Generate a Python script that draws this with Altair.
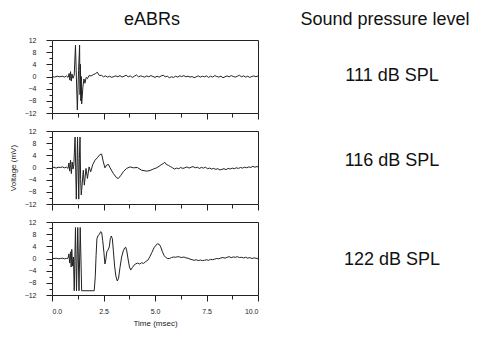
import altair as alt
import pandas as pd

FONT = "Liberation Sans"

levels = ["111 dB SPL", "116 dB SPL", "122 dB SPL"]
titles = ["eABRs", "Sound pressure level"]

# 111 dB SPL trace (time ms, voltage mV)
eabr_111 = [
    (0.0, 0.0), (0.12, -0.2), (0.25, 0.1), (0.37, -0.1), (0.5, 0.1), (0.62, -0.2),
    (0.7, 0.2), (0.78, -0.3), (0.83, 1.0), (0.87, -1.2), (0.9, 1.6), (0.94, -1.5),
    (0.97, 0.8), (1.02, -0.6), (1.08, 0.5), (1.14, 10.3), (1.23, -11.0), (1.29, 2.0),
    (1.34, 10.3), (1.36, -6.0), (1.38, 4.0), (1.40, -8.0), (1.42, 0.0), (1.44, -9.0),
    (1.50, -3.5), (1.55, -0.8), (1.60, -2.2), (1.66, -0.3), (1.72, -0.7), (1.80, 0.3),
    (1.90, 0.2), (2.00, 0.6), (2.1, 0.9), (2.2, 1.4), (2.3, 0.3),
    (2.4, 0.4), (2.5, -0.1), (2.6, 0.2), (2.7, -0.2), (2.8, 0.1), (2.9, -0.3), (3.0, 0.0),
    (3.1, 0.2), (3.2, -0.1), (3.3, 0.3), (3.4, -0.2), (3.5, 0.1), (3.6, 0.4), (3.7, -0.1),
    (3.8, 0.2), (3.9, -0.3), (4.0, 0.1), (4.1, 0.5), (4.2, -0.1), (4.3, 0.2), (4.4, 0.0),
    (4.5, -0.2), (4.6, 0.2), (4.7, -0.1), (4.8, 0.3), (4.9, 0.0), (5.0, -0.3), (5.1, 0.1),
    (5.2, -0.2), (5.3, 0.2), (5.4, 0.4), (5.5, -0.1), (5.6, 0.1), (5.7, -0.4), (5.8, -0.1),
    (5.9, -0.3), (6.0, 0.1), (6.1, -0.2), (6.2, 0.2), (6.3, 0.0), (6.4, 0.3), (6.5, -0.1),
    (6.6, 0.1), (6.7, -0.2), (6.8, 0.0), (6.9, -0.4), (7.0, -0.1), (7.1, 0.2), (7.2, -0.2),
    (7.3, 0.1), (7.4, -0.1), (7.5, 0.2), (7.6, -0.3), (7.7, 0.1), (7.8, -0.2), (7.9, 0.3),
    (8.0, 0.0), (8.1, -0.2), (8.2, 0.1), (8.3, -0.4), (8.4, -0.1), (8.5, 0.2), (8.6, -0.1),
    (8.7, 0.3), (8.8, 0.0), (8.9, -0.2), (9.0, 0.1), (9.1, 0.4), (9.2, -0.1), (9.3, 0.2),
    (9.4, -0.2), (9.5, 0.1), (9.6, -0.3), (9.7, 0.0), (9.8, 0.2), (9.9, -0.1), (10.0, 0.2),
]

# 116 dB SPL trace
eabr_116 = [
    (0.0, 0.0), (0.1, 0.1), (0.2, -0.2), (0.3, 0.1), (0.4, 0.0), (0.5, 0.2), (0.6, -0.1),
    (0.7, 0.1), (0.78, -0.3), (0.82, 1.5), (0.86, -1.2), (0.9, 2.4), (0.94, -2.0),
    (0.98, 1.8), (1.02, -0.5), (1.06, 0.8), (1.12, 10.0), (1.18, -10.4), (1.24, 10.0),
    (1.30, -10.4), (1.33, 3.0), (1.36, 10.0), (1.39, -4.0), (1.42, -9.0), (1.44, -7.5),
    (1.52, -0.9), (1.57, -5.8), (1.65, -0.3), (1.72, -3.6), (1.80, 0.2), (1.88, -1.4),
    (1.98, 1.0), (2.09, 2.4), (2.20, 3.2), (2.33, 4.3), (2.41, 4.4), (2.49, 1.9),
    (2.57, -0.1), (2.65, 0.8), (2.74, 1.0), (2.82, -0.1), (2.98, -2.0), (3.14, -3.4),
    (3.22, -3.6), (3.33, -2.7), (3.46, -1.4), (3.62, -0.3), (3.79, 0.2), (3.95, -0.1),
    (4.14, 0.0), (4.35, -0.9), (4.6, -1.2), (4.76, -1.0), (4.92, -0.5), (5.08, -0.1),
    (5.2, 0.4), (5.3, 0.9), (5.4, 1.3), (5.48, 1.7), (5.55, 1.0), (5.65, 0.7), (5.75, 0.3),
    (5.85, -0.1), (5.95, -0.5), (6.05, -0.2), (6.15, -0.4), (6.25, 0.0), (6.35, -0.3),
    (6.45, -0.1), (6.55, 0.2), (6.65, -0.2), (6.75, 0.1), (6.85, 0.3), (6.95, -0.1),
    (7.05, 0.1), (7.15, -0.3), (7.25, 0.0), (7.35, -0.2), (7.45, 0.1), (7.55, -0.4),
    (7.65, -0.2), (7.75, -0.5), (7.85, -0.3), (7.95, -0.6), (8.05, -0.4), (8.15, -0.8),
    (8.25, -0.6), (8.35, -0.4), (8.45, -0.7), (8.55, -0.3), (8.65, -0.5), (8.75, -0.2),
    (8.85, -0.4), (8.95, -0.1), (9.05, -0.3), (9.15, 0.0), (9.25, -0.2), (9.35, 0.1),
    (9.45, -0.1), (9.55, 0.2), (9.65, 0.0), (9.75, 0.4), (9.85, 0.1), (9.95, 0.3), (10.0, 0.2),
]

# 122 dB SPL trace
eabr_122 = [
    (0.0, 0.0), (0.1, 0.0), (0.2, 0.1), (0.3, -0.1), (0.4, 0.0), (0.5, 0.1), (0.6, -0.1),
    (0.7, 0.0), (0.78, 0.1), (0.82, 1.5), (0.86, -1.5), (0.9, 2.2), (0.93, -2.8),
    (0.96, 3.0), (1.0, -2.5), (1.04, 0.5), (1.08, -10.6), (1.14, 10.2), (1.19, -10.6),
    (1.25, 10.2), (1.31, -10.6), (1.37, 10.2), (1.44, -10.6), (1.6, -10.6), (1.8, -10.6),
    (2.05, -10.6), (2.1, -6.0), (2.14, 1.0), (2.18, 6.5), (2.24, 7.6), (2.3, 7.9),
    (2.36, 8.8), (2.41, 8.6), (2.46, 6.0), (2.52, 2.0), (2.57, -1.8), (2.61, -0.5),
    (2.66, 2.2), (2.72, 2.8), (2.78, 3.8), (2.83, 6.5), (2.88, 7.4), (2.93, 6.5),
    (2.98, 2.5), (3.04, -2.5), (3.1, -5.8), (3.17, -7.4), (3.23, -6.5), (3.3, -3.0),
    (3.38, 0.5), (3.46, 2.5), (3.53, 3.5), (3.58, 3.7), (3.63, 2.5), (3.7, -0.5),
    (3.76, -2.8), (3.82, -3.8), (3.9, -3.0), (3.98, -2.2), (4.06, -1.8), (4.15, -1.5),
    (4.25, -1.8), (4.35, -1.4), (4.45, -1.6), (4.55, -1.0), (4.65, -0.6), (4.75, 0.6),
    (4.85, 2.0), (4.95, 3.5), (5.05, 4.4), (5.12, 4.8), (5.2, 4.7), (5.28, 3.8),
    (5.36, 2.2), (5.45, 0.9), (5.55, 0.2), (5.62, 0.0), (5.7, 0.0), (5.8, 0.3), (5.9, 0.5),
    (6.0, 0.4), (6.1, 0.6), (6.2, 0.5), (6.3, 0.3), (6.4, 0.5), (6.5, 0.2), (6.6, 0.1),
    (6.7, -0.2), (6.8, -0.4), (6.9, -0.6), (7.0, -0.4), (7.1, -0.7), (7.2, -0.5),
    (7.3, -0.7), (7.4, -0.6), (7.5, -0.4), (7.6, -0.6), (7.7, -0.3), (7.8, -0.4),
    (7.9, -0.2), (8.0, 0.0), (8.1, -0.1), (8.2, 0.2), (8.3, 0.3), (8.4, 0.1), (8.5, 0.4),
    (8.6, 0.6), (8.7, 0.3), (8.8, 0.5), (8.9, 0.4), (9.0, 0.6), (9.1, 0.3), (9.2, 0.4),
    (9.3, 0.2), (9.4, 0.4), (9.5, 0.1), (9.6, 0.3), (9.7, 0.0), (9.8, 0.2), (9.9, 0.1),
    (10.0, -0.1),
]

x_ticks = [0, 1.25, 2.5, 3.75, 5, 6.25, 7.5, 8.75, 10]
y_ticks = [-12, -10, -8, -6, -4, -2, 0, 2, 4, 6, 8, 10, 12]

W, H = 206, 73
INK = "#222222"


def panel(trace, label, label_y, bottom=False, ytitle=False, top=False):
    df = pd.DataFrame(trace, columns=["t", "v"])
    xaxis = alt.Axis(
        values=x_ticks,
        grid=False,
        domain=False,
        tickColor=INK,
        tickSize={"condition": {"test": "datum.value % 2.5 === 0", "value": 6}, "value": 4},
        labels=bottom,
        labelExpr="datum.value % 2.5 === 0 ? format(datum.value, '.1f') : ''",
        labelFont=FONT,
        labelFontSize=7,
        labelColor=INK,
        labelPadding=6,
        title="Time (msec)" if bottom else None,
        titleFont=FONT,
        titleFontSize=8,
        titleFontWeight="normal",
        titleColor=INK,
        titlePadding=5,
    )
    yaxis = alt.Axis(
        values=y_ticks,
        grid=False,
        domain=False,
        tickColor=INK,
        tickSize={"condition": {"test": "datum.value % 4 === 0", "value": 6}, "value": 3},
        labelExpr="datum.value % 4 === 0 ? datum.label : ''",
        labelFont=FONT,
        labelFontSize=7,
        labelColor=INK,
        labelPadding=10,
        title="Voltage (mV)" if ytitle else None,
        titleFont=FONT,
        titleFontSize=8,
        titleFontWeight="normal",
        titleColor=INK,
        titlePadding=7,
    )
    line = alt.Chart(df).mark_line(color=INK, strokeWidth=1, clip=True).encode(
        x=alt.X("t:Q", scale=alt.Scale(domain=[0, 10], nice=False, zero=False), axis=xaxis),
        y=alt.Y("v:Q", scale=alt.Scale(domain=[-12, 12], nice=False), axis=yaxis),
        order="t:Q",
    )
    lab = alt.Chart(pd.DataFrame({"label": [label]})).mark_text(
        font=FONT, fontSize=18, align="center", baseline="alphabetic", color="#111111"
    ).encode(text="label:N", x=alt.value(340), y=alt.value(label_y))
    layers = [line, lab]
    if top:
        t1 = alt.Chart(pd.DataFrame({"label": [titles[0]]})).mark_text(
            font=FONT, fontSize=18, align="center", baseline="alphabetic", color="#111111"
        ).encode(text="label:N", x=alt.value(100), y=alt.value(-15))
        t2 = alt.Chart(pd.DataFrame({"label": [titles[1]]})).mark_text(
            font=FONT, fontSize=18, align="center", baseline="alphabetic", color="#111111"
        ).encode(text="label:N", x=alt.value(333), y=alt.value(-15))
        layers += [t1, t2]
    return alt.layer(*layers).properties(width=W, height=H)


chart = alt.vconcat(
    panel(eabr_111, levels[0], 41, top=True),
    panel(eabr_116, levels[1], 35, ytitle=True),
    panel(eabr_122, levels[2], 43, bottom=True),
    spacing=6,
).properties(
    padding={"left": 0, "top": 2, "right": 0, "bottom": 0}
).configure_view(stroke=INK, strokeWidth=1)

chart.save("out.html", embed_options={"renderer": "svg", "actions": False})
